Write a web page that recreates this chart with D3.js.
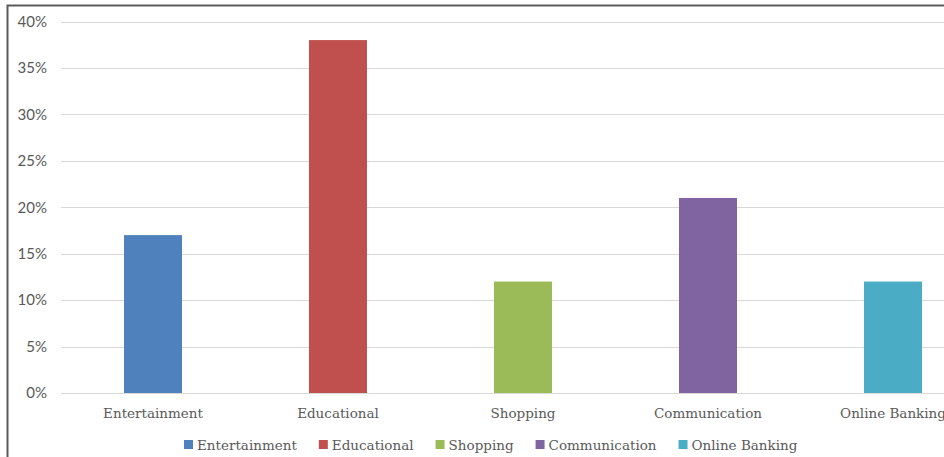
<!DOCTYPE html>
<html><head><meta charset="utf-8">
<script src="https://cdn.jsdelivr.net/npm/d3@7/dist/d3.min.js"></script>
<style>
html,body{margin:0;padding:0;background:#fff;overflow:hidden;}
svg{display:block;}
</style></head>
<body>
<svg id="chart" width="944" height="457"></svg>
<script>
const categories = ["Entertainment","Educational","Shopping","Communication","Online Banking"];
const values = [17, 38, 12, 21, 12];
const colors = ["#4F81BD","#C0504D","#9BBB59","#8064A2","#4BACC6"];
const yTicks = [0,5,10,15,20,25,30,35,40];

const svg = d3.select("#chart");
const W = 944, H = 457;
svg.append("rect").attr("x",0).attr("y",0).attr("width",W).attr("height",H).attr("fill","#fff");
// outer border (chart cut on right and bottom)
svg.append("rect").attr("x",7.5).attr("y",5.5).attr("width",1200).attr("height",800)
  .attr("fill","none").attr("stroke","#5a5a5a").attr("stroke-width",2);

const x = d3.scaleBand().domain(categories).range([60.5, 985.5]).paddingInner(0.6865).paddingOuter(0.3432);
const y = d3.scaleLinear().domain([0,40]).range([393, 21.5]);

// gridlines
const g = svg.append("g");
g.selectAll("line.grid").data(yTicks).join("line")
  .attr("x1",61).attr("x2",W).attr("y1",d=>Math.round(y(d))+0.5).attr("y2",d=>Math.round(y(d))+0.5)
  .attr("stroke","#d9d9d9").attr("stroke-width",1);

// y labels
g.selectAll("text.yl").data(yTicks).join("text")
  .attr("x",47).attr("y",d=>y(d)).attr("dy","0.35em").attr("text-anchor","end")
  .attr("font-family","Lato, 'Open Sans', sans-serif").attr("font-size",15).attr("fill","#595959")
  .text(d=>d+"%");

// bars
const bw = 58;
g.selectAll("rect.bar").data(values).join("rect")
  .attr("x",(d,i)=>x(categories[i]) + x.bandwidth()/2 - bw/2)
  .attr("y",d=>y(d)).attr("width",bw).attr("height",d=>y(0)-y(d))
  .attr("fill",(d,i)=>colors[i]);

// category labels
g.selectAll("text.xl").data(categories).join("text")
  .attr("x",d=>x(d)+x.bandwidth()/2).attr("y",418).attr("text-anchor","middle")
  .attr("font-family","'DejaVu Serif', serif").attr("font-size",13.5).attr("fill","#595959")
  .text(d=>d);

// legend
let lx = 184;
const leg = svg.append("g");
categories.forEach((c,i)=>{
  leg.append("rect").attr("x",lx).attr("y",440).attr("width",9).attr("height",9).attr("fill",colors[i]);
  const t = leg.append("text").attr("x",lx+13).attr("y",449.5)
    .attr("font-family","'DejaVu Serif', serif").attr("font-size",13.5).attr("fill","#595959")
    .text(c);
  const w = t.node().getComputedTextLength();
  lx = lx + 13 + w + 22;
});
</script>
</body></html>
